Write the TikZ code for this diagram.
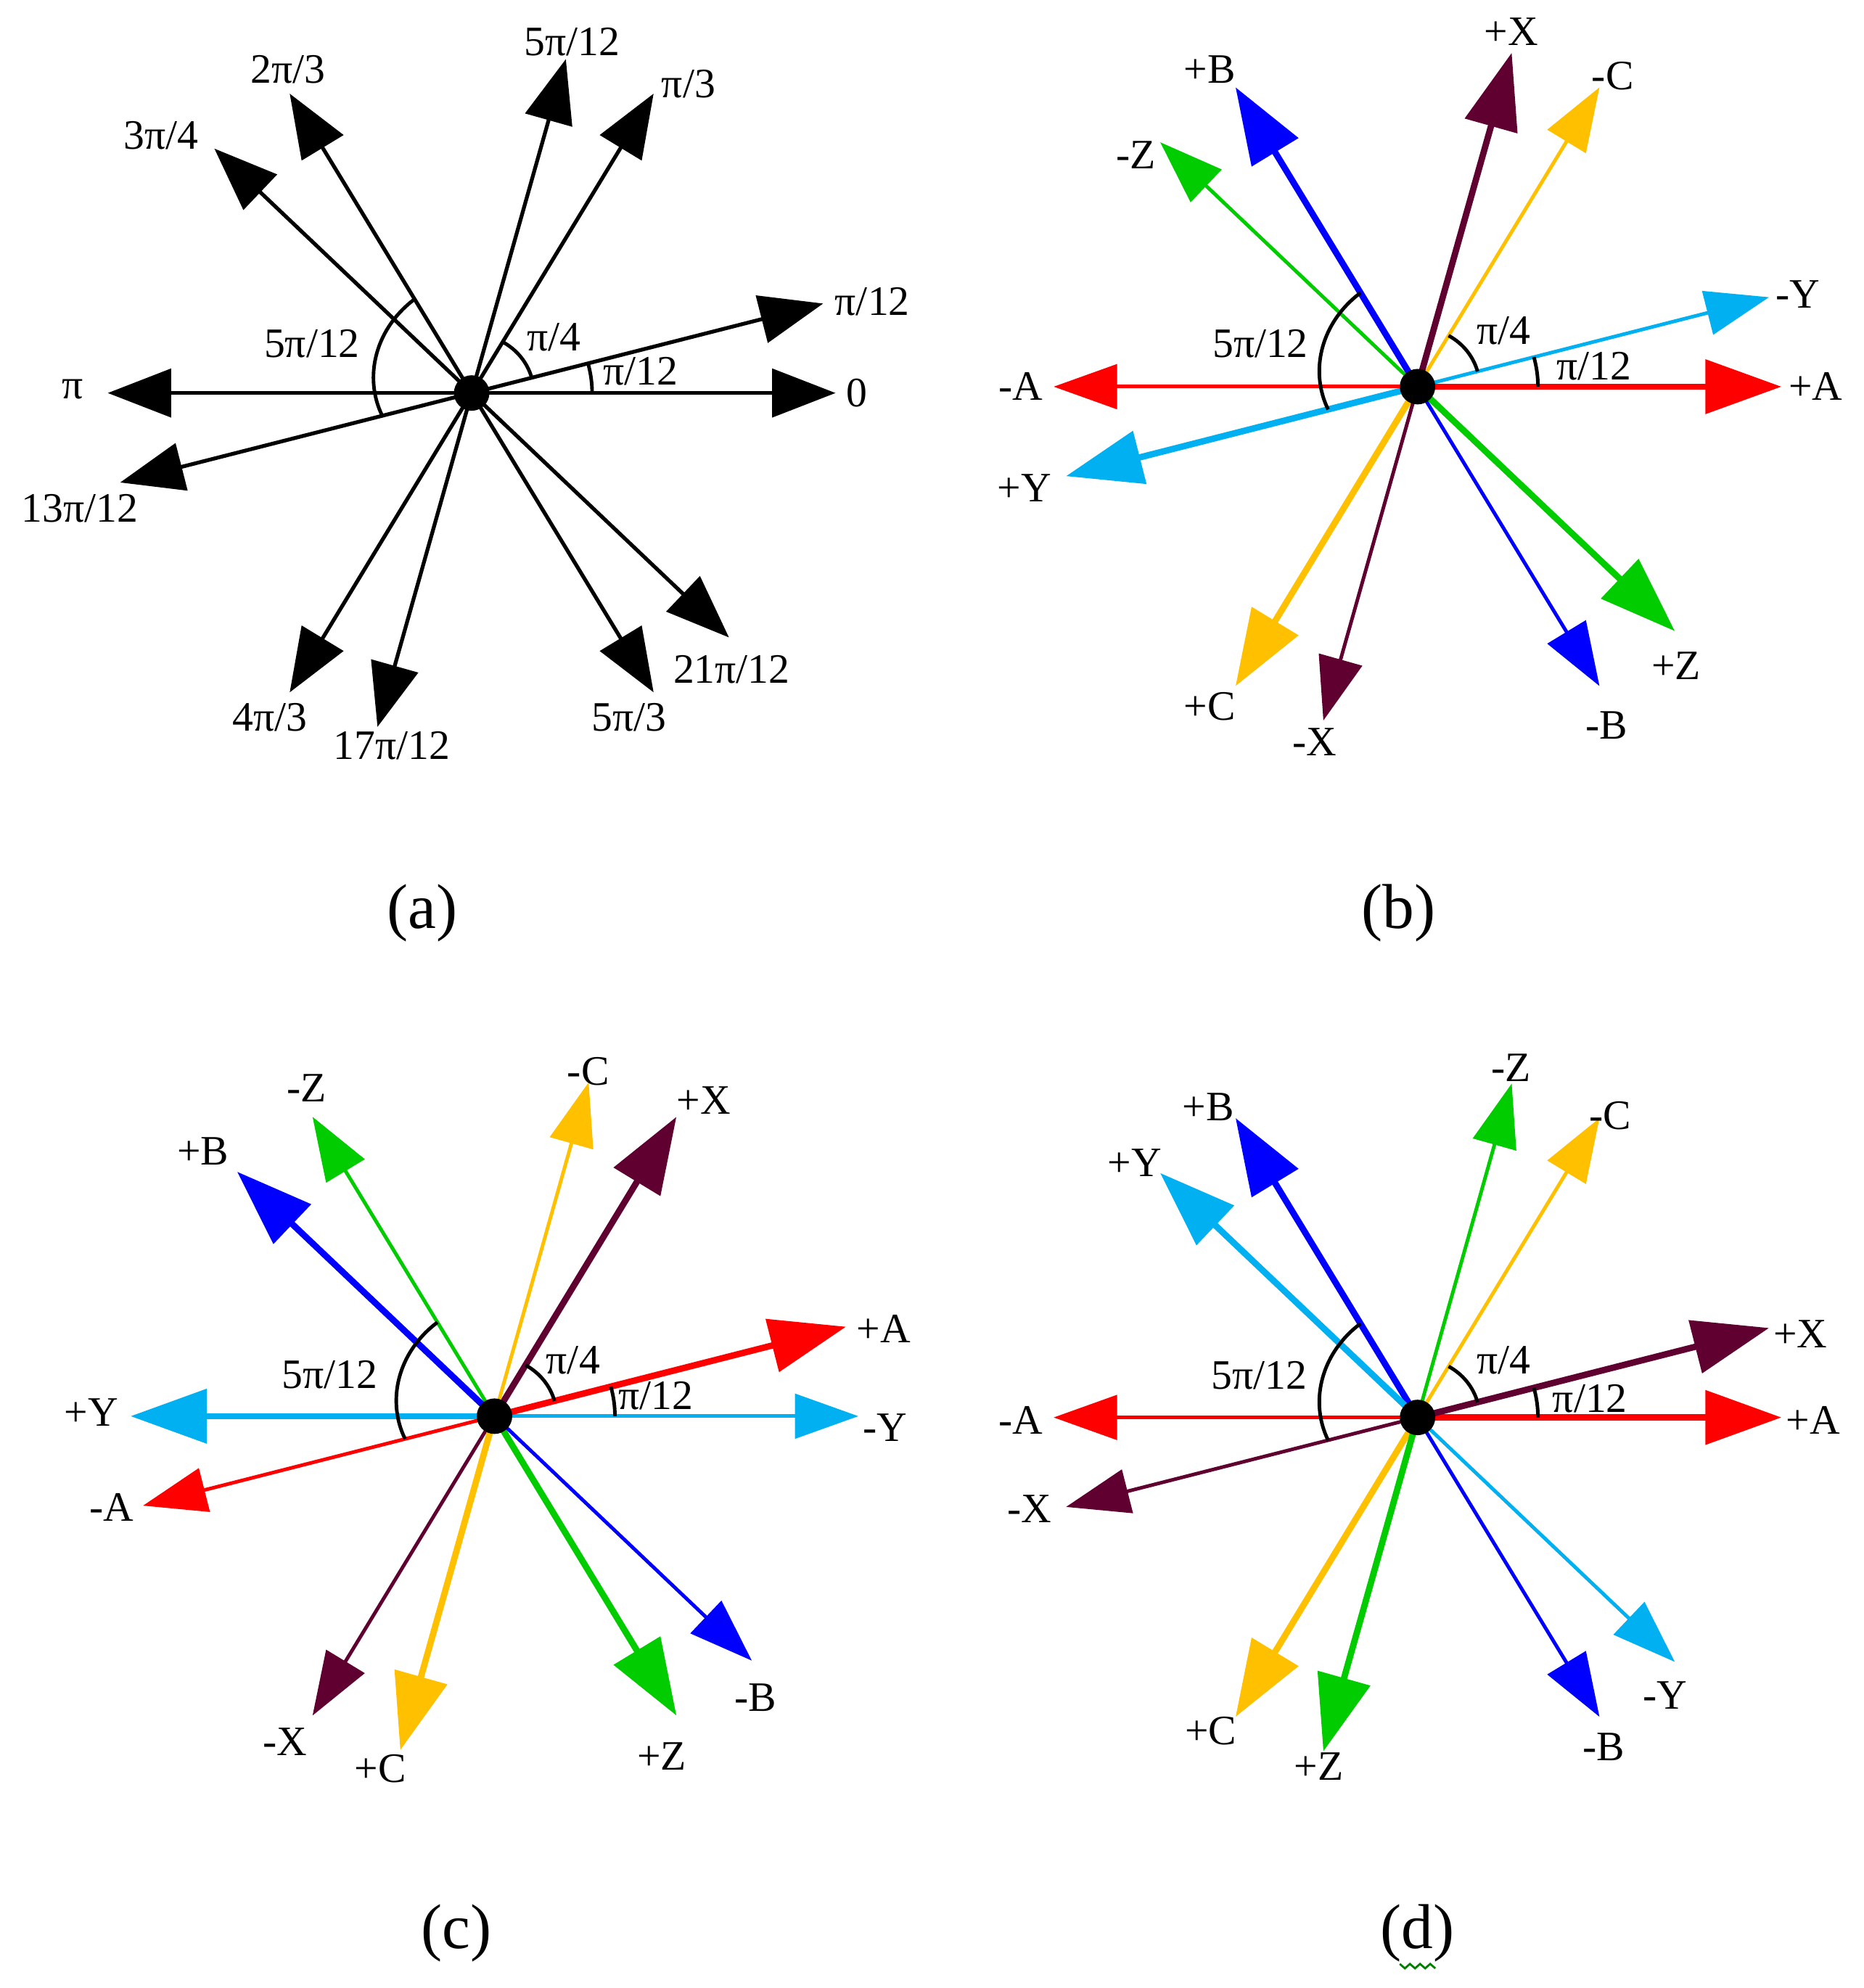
\documentclass[tikz,border=0pt]{standalone}
\usepackage{fontspec}
\setmainfont{Liberation Serif}
\usetikzlibrary{arrows.meta,calc}
\definecolor{cred}{RGB}{255,0,0}
\definecolor{cblue}{RGB}{0,0,255}
\definecolor{cgreen}{RGB}{0,204,0}
\definecolor{corange}{RGB}{255,192,0}
\definecolor{ccyan}{RGB}{0,176,240}
\definecolor{cpurple}{RGB}{96,0,48}
\definecolor{cwave}{RGB}{0,128,0}
\tikzset{
  thickarrow/.style={line width=5pt, -{Triangle[length=60pt,width=42pt]}},
  thinarrow/.style={line width=2.8pt, -{Triangle[length=50pt,width=35pt]}},
  blackarrow/.style={line width=3pt, black, -{Triangle[length=50pt,width=38pt]}},
  lbl/.style={font=\fontsize{33}{40}\selectfont, inner sep=0pt},
  captext/.style={font=\fontsize{50}{60}\selectfont, inner sep=0pt},
  angarc/.style={line width=2.8pt, black},
  cdot/.style={circle, fill=black, inner sep=0pt, minimum size=28pt},
}
% #1 centre, #2 name, #3 angle, #4 style, #5 label, #6 label position
\newcommand\phasor[6]{%
  \coordinate (#2) at (#3:287 and 272.65);
  \draw[#4] (#1) -- (#2);
  \node[lbl] (#2l) at (#6) {#5};
}
% #1 prefix, #2/#3/#4 angle label positions
\newcommand\angmarks[4]{%
  \draw[angarc] (0:95 and 90.25) arc[start angle=0, end angle=15, x radius=95, y radius=90.25];
  \draw[angarc] (15:49 and 46.5) arc[start angle=15, end angle=60, x radius=49, y radius=46.5];
  \draw[angarc] plot[domain=120:195, samples=30, smooth] ({(90-(\x-120)*0.2267)*cos(\x)},{0.95*(90-(\x-120)*0.2267)*sin(\x)});
  \node[lbl] (#1ang1) at (#2) {π/12};
  \node[lbl] (#1ang2) at (#3) {π/4};
  \node[lbl] (#1ang3) at (#4) {5π/12};
}
\begin{document}
\begin{tikzpicture}[x=1pt,y=1pt]
\useasboundingbox (0,0) rectangle (1470,1568);
\fill[white] (0,0) rectangle (1470,1568);

% ---------------- (a)
\begin{scope}[shift={(372,1258)}]
  \coordinate (oa) at (0,0);
  \phasor{oa}{a1}{0}{blackarrow}{0}{304,0}
  \phasor{oa}{a2}{15}{blackarrow}{π/12}{316,72}
  \phasor{oa}{a3}{60}{blackarrow}{π/3}{171,244}
  \phasor{oa}{a4}{75}{blackarrow}{5π/12}{79,277}
  \phasor{oa}{a5}{120}{blackarrow}{2π/3}{-145,255}
  \phasor{oa}{a6}{135}{blackarrow}{3π/4}{-245,203}
  \phasor{oa}{a7}{180}{blackarrow}{π}{-315,3}
  \phasor{oa}{a8}{195}{blackarrow}{13π/12}{-309,-91}
  \phasor{oa}{a9}{240}{blackarrow}{4π/3}{-159,-256}
  \phasor{oa}{a10}{255}{blackarrow}{17π/12}{-63,-278}
  \phasor{oa}{a11}{300}{blackarrow}{5π/3}{124,-256}
  \phasor{oa}{a12}{315}{blackarrow}{21π/12}{205,-218}
  \angmarks{a}{133,17}{65,44}{-126,39}
  \node[cdot] (da) at (oa) {};
\end{scope}
\node[captext] (capa) at (333,848) {(a)};

% ---------------- (b)
\begin{scope}[shift={(1118,1263)}]
  \coordinate (ob) at (0,0);
  \phasor{ob}{b1}{0}{thickarrow,cred}{+A}{314,0}
  \phasor{ob}{b2}{15}{thinarrow,ccyan}{-Y}{300,73}
  \phasor{ob}{b3}{60}{thinarrow,corange}{-C}{154,245}
  \phasor{ob}{b4}{75}{thickarrow,cpurple}{+X}{74,280}
  \phasor{ob}{b5}{120}{thickarrow,cblue}{+B}{-164,250}
  \phasor{ob}{b6}{135}{thinarrow,cgreen}{-Z}{-222,183}
  \phasor{ob}{b7}{180}{thinarrow,cred}{-A}{-313,0}
  \phasor{ob}{b8}{195}{thickarrow,ccyan}{+Y}{-310,-80}
  \phasor{ob}{b9}{240}{thickarrow,corange}{+C}{-164,-252}
  \phasor{ob}{b10}{255}{thinarrow,cpurple}{-X}{-81,-280}
  \phasor{ob}{b11}{300}{thinarrow,cblue}{-B}{149,-267}
  \phasor{ob}{b12}{315}{thickarrow,cgreen}{+Z}{204,-220}
  \angmarks{b}{139,16}{68,44}{-124,34}
  \node[cdot] (db) at (ob) {};
\end{scope}
\node[captext] (capb) at (1103,848) {(b)};

% ---------------- (c)
\begin{scope}[shift={(390,451)}]
  \coordinate (oc) at (0,0);
  \phasor{oc}{c1}{0}{thinarrow,ccyan}{-Y}{308,-9}
  \phasor{oc}{c2}{15}{thickarrow,cred}{+A}{307,69}
  \phasor{oc}{c3}{60}{thickarrow,cpurple}{+X}{165,249}
  \phasor{oc}{c4}{75}{thinarrow,corange}{-C}{74,272}
  \phasor{oc}{c5}{120}{thinarrow,cgreen}{-Z}{-148,259}
  \phasor{oc}{c6}{135}{thickarrow,cblue}{+B}{-230,209}
  \phasor{oc}{c7}{180}{thickarrow,ccyan}{+Y}{-318,3}
  \phasor{oc}{c8}{195}{thinarrow,cred}{-A}{-302,-72}
  \phasor{oc}{c9}{240}{thinarrow,cpurple}{-X}{-165,-257}
  \phasor{oc}{c10}{255}{thickarrow,corange}{+C}{-90,-278}
  \phasor{oc}{c11}{300}{thickarrow,cgreen}{+Z}{132,-268}
  \phasor{oc}{c12}{315}{thinarrow,cblue}{-B}{206,-222}
  \angmarks{c}{127,16}{62,44}{-130,33}
  \node[cdot] (dc) at (oc) {};
\end{scope}
\node[captext] (capc) at (360,43) {(c)};

% ---------------- (d)
\begin{scope}[shift={(1118,450)}]
  \coordinate (od) at (0,0);
  \phasor{od}{d1}{0}{thickarrow,cred}{+A}{312,-2}
  \phasor{od}{d2}{15}{thickarrow,cpurple}{+X}{302,66}
  \phasor{od}{d3}{60}{thinarrow,corange}{-C}{152,238}
  \phasor{od}{d4}{75}{thinarrow,cgreen}{-Z}{74,276}
  \phasor{od}{d5}{120}{thickarrow,cblue}{+B}{-165,245}
  \phasor{od}{d6}{135}{thickarrow,ccyan}{+Y}{-223,201}
  \phasor{od}{d7}{180}{thinarrow,cred}{-A}{-313,-2}
  \phasor{od}{d8}{195}{thinarrow,cpurple}{-X}{-306,-72}
  \phasor{od}{d9}{240}{thickarrow,corange}{+C}{-163,-247}
  \phasor{od}{d10}{255}{thickarrow,cgreen}{+Z}{-78,-275}
  \phasor{od}{d11}{300}{thinarrow,cblue}{-B}{147,-260}
  \phasor{od}{d12}{315}{thinarrow,ccyan}{-Y}{195,-219}
  \angmarks{d}{136,15}{68,45}{-125,33}
  \node[cdot] (dd) at (od) {};
\end{scope}
\node[captext] (capd) at (1118,43) {(d)};
\draw[cwave, line width=1.6pt] (1104,19) -- (1108,15.5) -- (1112,19) -- (1116,15.5) -- (1120,19) -- (1124,15.5) -- (1128,19) -- (1132,15.5);
\end{tikzpicture}
\end{document}
